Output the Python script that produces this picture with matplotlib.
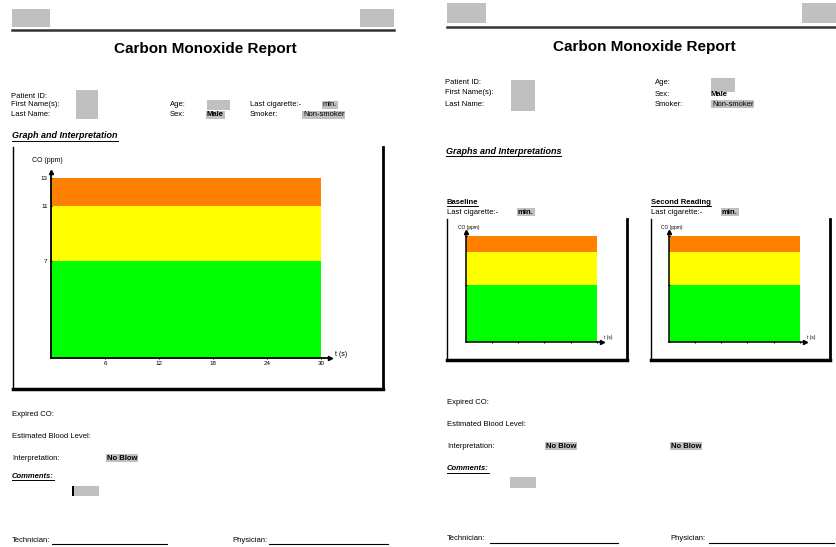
import matplotlib
matplotlib.use("Agg")
import matplotlib.pyplot as plt
from matplotlib.patches import Rectangle

plt.rcParams['font.family'] = ['Liberation Sans', 'DejaVu Sans']

W, H = 837, 547

# CO zones (ppm) and colours
band_edges = [0, 7, 11, 13]
band_colors = ['#00ff00', '#ffff00', '#ff7f00']
x_ticks = [6, 12, 18, 24, 30]
y_ticks_big = [7, 11, 13]
y_ticks_small = [7, 13]
x_max = 30

GRAY = '#c0c0c0'
SMALL = 5.5

fig = plt.figure(figsize=(W / 100, H / 100), dpi=100)
bg = fig.add_axes([0, 0, 1, 1])
bg.set_xlim(0, W)
bg.set_ylim(H, 0)
bg.axis('off')


def txt(x, y, s, size=SMALL, shade=False, **kw):
    box = dict(facecolor=GRAY, edgecolor='none', pad=0.6) if shade else None
    return bg.text(x, y, s, fontsize=size, va='center', ha=kw.pop('ha', 'left'),
                   bbox=box, **kw)


def box(x0, y0, x1, y1, color=GRAY):
    bg.add_patch(Rectangle((x0, y0), x1 - x0, y1 - y0, facecolor=color, edgecolor='none'))


underlined = []


def heading(x, y, s, size=6.5, style='italic', weight='bold'):
    t = txt(x, y, s, size=size, style=style, weight=weight)
    underlined.append(t)


def chart(x0, y0, x1, y1, ylim_top, xlim_right, yticks, fs, lw, small):
    ax = fig.add_axes([x0 / W, 1 - y1 / H, (x1 - x0) / W, (y1 - y0) / H])
    ax.patch.set_alpha(0)
    for lo, hi, c in zip(band_edges[:-1], band_edges[1:], band_colors):
        ax.fill_between([0, x_max], lo, hi, color=c, lw=0)
    ax.set_xlim(0, xlim_right)
    ax.set_ylim(0, ylim_top)
    for s in ['top', 'right']:
        ax.spines[s].set_visible(False)
    for s in ['left', 'bottom']:
        ax.spines[s].set_linewidth(lw)
    ax.plot(1, 0, '>k', ms=3, transform=ax.transAxes, clip_on=False)
    ax.plot(0, 1, '^k', ms=3, transform=ax.transAxes, clip_on=False)
    ax.set_xticks(x_ticks)
    ax.set_yticks(yticks)
    ax.set_xticklabels([] if small else [str(v) for v in x_ticks])
    ax.set_yticklabels([] if small else [str(v) for v in yticks])
    ax.tick_params(labelsize=fs, length=2, width=0.8, direction='inout', pad=1.5)
    return ax


# ---------------- left page ----------------
box(12, 9, 50, 27)
box(360, 9, 394, 27)
bg.plot([12, 394], [30, 30], color='#333333', lw=1.8)
txt(205, 49, 'Carbon Monoxide Report', size=11, weight='bold', ha='center')

box(76, 90, 98, 119)
txt(11, 97, 'Patient ID:')
txt(11, 105, 'First Name(s):')
txt(11, 115, 'Last Name:')
box(207, 100, 230, 110)
txt(170, 105, 'Age:')
txt(170, 115, 'Sex:')
txt(207, 115, 'Male', shade=True, weight='bold')
txt(250, 105, 'Last cigarette:-')
txt(323, 105, 'min.', shade=True)
txt(250, 115, 'Smoker:')
txt(303, 115, 'Non-smoker', shade=True)

heading(12, 136, 'Graph and Interpretation')

bg.plot([13, 13], [147, 389], color='black', lw=1)
bg.plot([383, 383], [147, 389], color='black', lw=2)
bg.plot([13, 383], [389, 389], color='black', lw=2.5)

chart(51, 172, 330, 358, 13.43, 31, y_ticks_big, 4.5, 1.3, False)
txt(32, 161, 'CO (ppm)', size=5)
txt(335, 355, 't (s)', size=5)

txt(12, 415, 'Expired CO:')
txt(12, 437, 'Estimated Blood Level:')
txt(12, 458, 'Interpretation:')
txt(107, 458, 'No Blow', shade=True, weight='bold')
heading(12, 476, 'Comments:', size=5.5)
box(72, 486, 99, 496)
box(72, 486, 74, 496, color='black')
txt(12, 540, 'Technician:')
bg.plot([52, 167], [544, 544], color='black', lw=0.8)
txt(232, 540, 'Physician:')
bg.plot([269, 388], [544, 544], color='black', lw=0.8)

# ---------------- right page ----------------
box(447, 3, 486, 23)
box(802, 3, 837, 23)
bg.plot([447, 837], [27, 27], color='#333333', lw=1.8)
txt(644, 47, 'Carbon Monoxide Report', size=11, weight='bold', ha='center')

box(511, 80, 535, 111)
txt(445, 83, 'Patient ID:')
txt(445, 93, 'First Name(s):')
txt(445, 105, 'Last Name:')
box(711, 78, 735, 92)
txt(655, 83, 'Age:')
txt(655, 94, 'Sex:')
txt(711, 94, 'Male', weight='bold')
txt(655, 104, 'Smoker:')
txt(712, 104, 'Non-smoker', shade=True)

heading(446, 151, 'Graphs and Interpretations')

for fx0, fx1, ax0, title in [(447, 627, 466, 'Baseline'), (651, 830, 669, 'Second Reading')]:
    heading(fx0, 202, title, size=5.5, style='normal')
    txt(fx0, 212, 'Last cigarette:-')
    txt(fx0 + 71, 212, 'min.', shade=True, weight='bold')
    bg.plot([fx0, fx0], [219, 360], color='black', lw=1)
    bg.plot([fx1, fx1], [219, 360], color='black', lw=2)
    bg.plot([fx0, fx1], [360, 360], color='black', lw=2.5)
    chart(ax0, 232, ax0 + 136, 342, 13.5, 31.2, y_ticks_small, 2.5, 1.1, True)
    txt(ax0 - 8, 228, 'CO (ppm)', size=3.5)
    txt(ax0 + 138, 338, 't (s)', size=3.5)

txt(447, 403, 'Expired CO:')
txt(447, 424, 'Estimated Blood Level:')
txt(447, 446, 'Interpretation:')
txt(546, 446, 'No Blow', shade=True, weight='bold')
txt(671, 446, 'No Blow', shade=True, weight='bold')
heading(447, 469, 'Comments:', size=5.5)
box(510, 477, 536, 488)
txt(447, 539, 'Technician:')
bg.plot([490, 618], [543, 543], color='black', lw=0.8)
txt(670, 539, 'Physician:')
bg.plot([709, 834], [543, 543], color='black', lw=0.8)

# underline the headings
fig.canvas.draw()
inv = bg.transData.inverted()
for t in underlined:
    bb = t.get_window_extent()
    (xa, yb), (xb, _) = inv.transform([(bb.x0, bb.y0), (bb.x1, bb.y0)])
    bg.plot([xa, xb], [yb + 0.5, yb + 0.5], color='black', lw=0.7)

fig.savefig('out.png', dpi=100)
